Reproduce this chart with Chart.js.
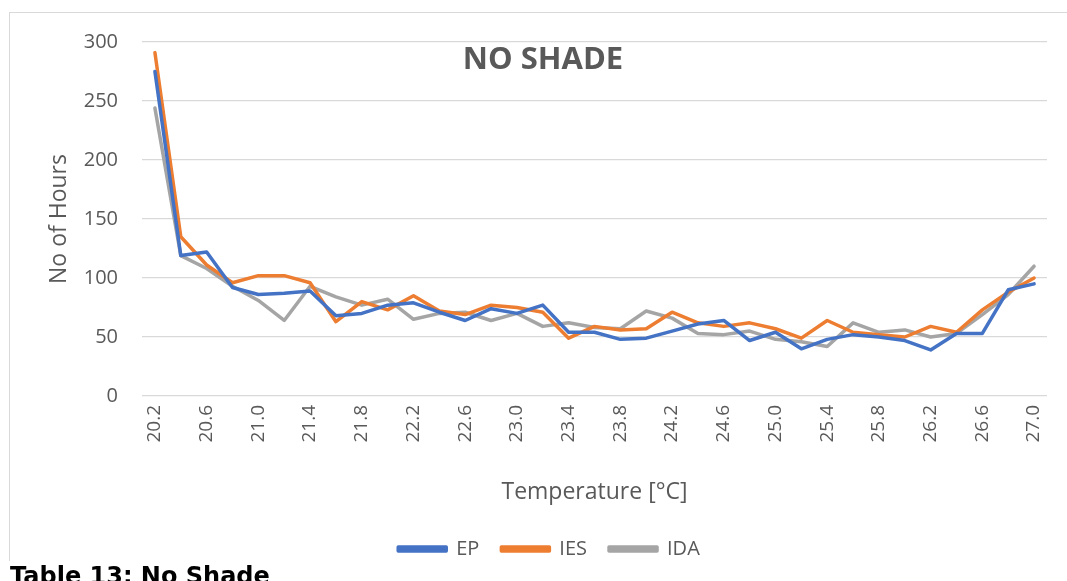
<!DOCTYPE html>
<html>
<head>
<meta charset="utf-8">
<script src="https://cdn.jsdelivr.net/npm/chart.js@4.4.0/dist/chart.umd.min.js"></script>
<style>
    body { margin: 0; background: #fff; width: 1067px; height: 581px; overflow: hidden; position: relative; }
    #frame { position: absolute; left: 9px; top: 12px; width: 1100px; height: 548px; border-left: 1px solid #d9d9d9; border-top: 1px solid #d9d9d9; }
    #wrap { position: absolute; left: 0; top: 0; width: 1067px; height: 581px; }
    #title { position: absolute; left: 393px; width: 300px; top: 36px; text-align: center; font: bold 31px 'Open Sans', sans-serif; color: #595959; }
    #caption { position: absolute; left: 10px; top: 562px; font: bold 24px 'DejaVu Sans', sans-serif; color: #000; white-space: nowrap; }
</style>
</head>
<body>
<div id="frame"></div>
<div id="wrap"><canvas id="chart"></canvas></div>
<div id="title">NO SHADE</div>
<div id="caption">Table 13: No Shade</div>
<script>
// 温度区间 (°C)
const temps = ['20.2','20.4','20.6','20.8','21.0','21.2','21.4','21.6','21.8','22.0','22.2','22.4','22.6','22.8','23.0','23.2','23.4','23.6','23.8','24.0','24.2','24.4','24.6','24.8','25.0','25.2','25.4','25.6','25.8','26.0','26.2','26.4','26.6','26.8','27.0'];
const epHours  = [275,119,122,92,86,87,89,68,70,77,79,71,64,74,70,77,54,54,48,49,55,61,64,47,54,40,48,52,50,47,39,53,53,90,95];
const iesHours = [291,135,111,96,102,102,96,63,80,73,85,72,69,77,75,71,49,59,56,57,71,62,59,62,57,49,64,54,52,50,59,54,73,88,100];
const idaHours = [244,119,108,93,81,64,93,84,77,82,65,70,71,64,70,59,62,58,57,72,66,53,52,55,48,46,42,62,54,56,50,53,69,86,110];
const yTicks = [0, 50, 100, 150, 200, 250, 300];

const grey = '#595959';
Chart.defaults.font.family = "'Open Sans', sans-serif";
Chart.defaults.color = grey;

const line = (label, data, color) => ({
    label, data, borderColor: color, backgroundColor: color,
    borderWidth: 3.5, pointRadius: 0, tension: 0, borderJoinStyle: 'round', borderCapStyle: 'round'
});

new Chart(document.getElementById('chart').getContext('2d'), {
    type: 'line',
    data: {
        labels: temps,
        datasets: [
            line('EP', epHours, '#4472C4'),
            line('IES', iesHours, '#ED7D31'),
            line('IDA', idaHours, '#A5A5A5')
        ]
    },
    options: {
        responsive: true,
        maintainAspectRatio: false,
        animation: false,
        layout: { padding: { left: 51, right: 20, top: 42, bottom: 12 } },
        plugins: {
            tooltip: { enabled: false },
            legend: {
                position: 'bottom',
                labels: { boxWidth: 48, boxHeight: 4, padding: 22, font: { size: 20 }, color: grey }
            }
        },
        scales: {
            x: {
                offset: true,
                grid: { display: false, drawTicks: false },
                border: { display: false },
                ticks: {
                    autoSkip: false, minRotation: 90, maxRotation: 90, padding: 9,
                    font: { size: 19 }, color: grey,
                    callback: (v, i) => (i % 2 === 0 ? temps[i] : '')
                },
                title: { display: true, text: 'Temperature [°C]', font: { size: 23 }, color: grey, padding: { top: 0, bottom: 11 } },
                afterFit: s => { s.height = 121; }
            },
            y: {
                min: 0, max: 300,
                afterBuildTicks: s => { s.ticks = yTicks.map(v => ({ value: v })); },
                grid: { color: '#d9d9d9', lineWidth: 1.3, drawTicks: false },
                border: { display: false },
                ticks: { padding: 24, font: { size: 20 }, color: grey },
                title: { display: true, text: 'No of Hours', font: { size: 23 }, color: grey, padding: { top: -5, bottom: 0 } },
                afterFit: s => { s.width = 91; }
            }
        }
    }
});
</script>
</body>
</html>
